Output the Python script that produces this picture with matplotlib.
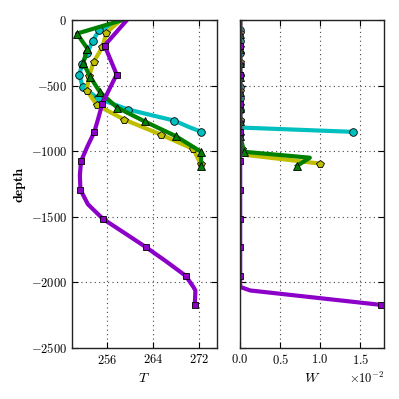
import matplotlib
matplotlib.use("Agg")
import matplotlib.pyplot as plt
from matplotlib.ticker import ScalarFormatter

plt.rcParams['font.family'] = 'serif'
plt.rcParams['font.serif'] = ['cmr10']
plt.rcParams['mathtext.fontset'] = 'cm'
plt.rcParams['axes.formatter.use_mathtext'] = True
plt.rcParams['xtick.direction'] = 'in'
plt.rcParams['ytick.direction'] = 'in'
plt.rcParams['xtick.top'] = True
plt.rcParams['ytick.right'] = True

# ---- data ----
cyan_depth = [0, -78, -162, -251, -332, -421, -510, -597, -683, -767, -820, -853]
cyan_T = [258.5, 254.55, 253.4, 252.5, 251.6, 251.1, 251.7, 254.3, 259.6, 267.6, 270.4, 272.35]
cyan_W = [0, 0, 0, 0, 0, 0, 0, 0, 0, 0, 0, 0.0141]
cyan_marks = [1, 2, 3, 4, 5, 6, 7, 8, 9, 11]

yellow_depth = [0, -99, -208, -320, -429, -538, -650, -759, -874, -983, -1025, -1095]
yellow_T = [258.3, 255.8, 255.1, 253.6, 252.8, 252.4, 254.2, 258.9, 265.3, 270.9, 271.4, 272.2]
yellow_W = [0, 0, 0, 0, 0, 0, 0, 0, 0, 0.0002, 0.0002, 0.0100]
yellow_marks = [1, 2, 3, 4, 5, 6, 7, 8, 9, 11]

green_depth = [0, -104, -218, -327, -434, -551, -668, -774, -886, -1005, -1050, -1112]
green_T = [258.7, 250.7, 252.5, 251.8, 253.0, 254.7, 257.7, 262.5, 267.9, 272.3, 272.3, 272.3]
green_W = [0, 0, 0, 0, 0, 0, 0, 0, 0, 0.0005, 0.0087, 0.0071]
green_marks = [1, 2, 3, 4, 5, 6, 7, 8, 9, 11]

purple_depth = [0, -100, -195, -300, -416, -530, -640, -750, -856, -965, -1077, -1185,
                -1295, -1405, -1516, -1625, -1732, -1840, -1950, -2035, -2062, -2172]
purple_T = [259.4, 257.4, 255.5, 256.5, 257.6, 256.3, 255.1, 254.4, 253.7, 252.5, 251.4, 251.2,
            251.3, 252.6, 255.2, 259.0, 262.7, 266.2, 269.6, 270.95, 271.3, 271.2]
purple_W = [0] * 19 + [0.0, 0.00125, 0.0176]
purple_marks = [2, 4, 6, 8, 10, 12, 14, 16, 18, 21]

series = [
    (cyan_depth, cyan_T, cyan_W, cyan_marks, '#00bfbf', 'o', 5.5),
    (yellow_depth, yellow_T, yellow_W, yellow_marks, '#bfbf00', 'p', 5.5),
    (green_depth, green_T, green_W, green_marks, '#008000', '^', 5.5),
    (purple_depth, purple_T, purple_W, purple_marks, '#8c00c8', 's', 5.0),
]

fig = plt.figure(figsize=(3.99, 3.99), dpi=100, facecolor='white')
axT = fig.add_axes([0.180, 0.128, 0.363, 0.822])
axW = fig.add_axes([0.602, 0.128, 0.361, 0.822], sharey=axT)

for d, T, W, mk, c, m, ms in series:
    axT.plot(T, d, color=c, lw=3, marker=m, ms=ms, markevery=mk,
             markeredgecolor='k', markeredgewidth=0.6)
    axW.plot(W, d, color=c, lw=3, marker=m, ms=ms, markevery=mk,
             markeredgecolor='k', markeredgewidth=0.6)

for ax in (axT, axW):
    ax.grid(True, color='#444444', linestyle=(0, (1, 3)), linewidth=0.8)
    for s in ax.spines.values():
        s.set_linewidth(1.0)
        s.set_color('#222222')
        s.set_zorder(5)
    ax.tick_params(labelsize=9, length=4)

axT.set_xlim(249.8, 275)
axT.set_xticks([256, 264, 272])
axT.set_ylim(-2500, 0)
axT.set_yticks([0, -500, -1000, -1500, -2000, -2500])
axT.set_xlabel('$T$', fontsize=10)
axT.set_ylabel('depth', fontsize=10, fontfamily='cmb10')

axW.set_xlim(0, 0.018)
axW.set_xticks([0, 0.005, 0.01, 0.015])
fmt = ScalarFormatter(useMathText=True)
fmt.set_powerlimits((-1, 1))
axW.xaxis.set_major_formatter(fmt)
axW.xaxis.get_offset_text().set_fontsize(9)
axW.tick_params(labelleft=False)
axW.set_xlabel('$W$', fontsize=10)

fig.savefig('out.png', dpi=100, facecolor='white')
